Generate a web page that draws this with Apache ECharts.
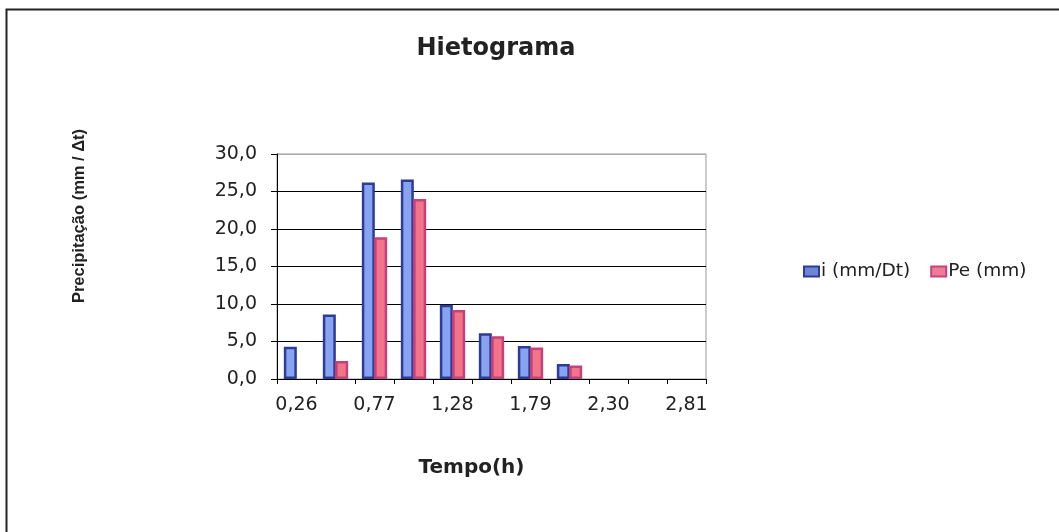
<!DOCTYPE html>
<html>
<head>
<meta charset="utf-8">
<script src="https://cdn.jsdelivr.net/npm/echarts@6/dist/echarts.min.js"></script>
<style>html,body{margin:0;padding:0;background:#fff}#c{width:1059px;height:532px}</style>
</head>
<body>
<div id="c"></div>
<script>
const categories = ['0,26','0,51','0,77','1,02','1,28','1,53','1,79','2,04','2,30','2,55','2,81'];
const seriesI = [4.3, 8.6, 26.2, 26.6, 9.9, 6.1, 4.4, 2.0, 0, 0, 0];
const seriesPe = [0, 2.4, 18.9, 24.0, 9.2, 5.7, 4.2, 1.8, 0, 0, 0];
const seriesNames = ['i (mm/Dt)', 'Pe (mm)'];
const yTicks = [0, 5, 10, 15, 20, 25, 30];

// zero-height bars are not drawn (no border line) in the reference
const toBars = arr => arr.map(v => v === 0 ? {value: 0, itemStyle: {borderWidth: 0}} : v);

const chart = echarts.init(document.getElementById('c'));
const wide = 'DejaVu Sans, sans-serif';
const arial = 'Liberation Sans, Arial, sans-serif';
chart.setOption({
  animation: false,
  backgroundColor: '#fff',
  title: {
    text: 'Hietograma', left: 491, top: 32, textAlign: 'center',
    textStyle: {fontFamily: wide, fontSize: 24, fontWeight: 'bold', color: '#222'}
  },
  legend: {
    left: 798, top: 257, itemWidth: 15, itemHeight: 10, itemGap: 20,
    textStyle: {fontFamily: wide, fontSize: 18.5, color: '#222', padding: [0,0,0,-3]},
    data: [
      {name: seriesNames[0], icon: 'rect', itemStyle: {color: '#6a86d8', borderColor: '#2e3c96', borderWidth: 2}},
      {name: seriesNames[1], icon: 'rect', itemStyle: {color: '#f07a9a', borderColor: '#c8407a', borderWidth: 2}}
    ]
  },
  grid: {left: 277, right: 353, top: 154, bottom: 153, show: true, borderColor: '#999', borderWidth: 1},
  xAxis: {
    type: 'category', data: categories,
    name: 'Tempo(h)', nameLocation: 'middle', nameGap: 79,
    nameTextStyle: {fontFamily: wide, fontSize: 20, fontWeight: 'bold', color: '#222', padding: [0,0,0,-40]},
    axisLine: {lineStyle: {color: '#000', width: 1}},
    axisTick: {show: true, interval: 0, length: 5, lineStyle: {color: '#000'}},
    axisLabel: {interval: 1, fontFamily: wide, fontSize: 19, color: '#222', margin: 17}
  },
  yAxis: {
    type: 'value', min: 0, max: 30, interval: 5,
    name: 'Precipitação (mm / Δt)', nameLocation: 'middle', nameGap: 189, nameRotate: 90,
    nameTextStyle: {fontFamily: arial, fontSize: 16.5, fontWeight: 'bold', color: '#222', padding: [0,0,0,101]},
    axisLine: {show: true, lineStyle: {color: '#000', width: 1}},
    axisTick: {show: true, length: 6, lineStyle: {color: '#000'}},
    axisLabel: {fontFamily: wide, fontSize: 19, color: '#222', margin: 20,
      formatter: v => yTicks.includes(v) ? v.toFixed(1).replace('.', ',') : ''},
    splitLine: {show: true, lineStyle: {color: ['#000','#000','#000','#000','#000','#000','#aaa'], width: 1}}
  },
  series: [
    {name: seriesNames[0], type: 'bar', data: toBars(seriesI), barWidth: 13, barGap: '-5%',
     itemStyle: {color: '#86a4f0', borderColor: '#2e3c96', borderWidth: 2.5}},
    {name: seriesNames[1], type: 'bar', data: toBars(seriesPe), barWidth: 13,
     itemStyle: {color: '#f27488', borderColor: '#c8407a', borderWidth: 2.5}}
  ],
  graphic: [
    {type: 'rect', left: 4, top: 7, z: 100, silent: true,
     shape: {width: 1070, height: 540}, style: {fill: 'none', stroke: '#222', lineWidth: 2}}
  ]
});
</script>
</body>
</html>
